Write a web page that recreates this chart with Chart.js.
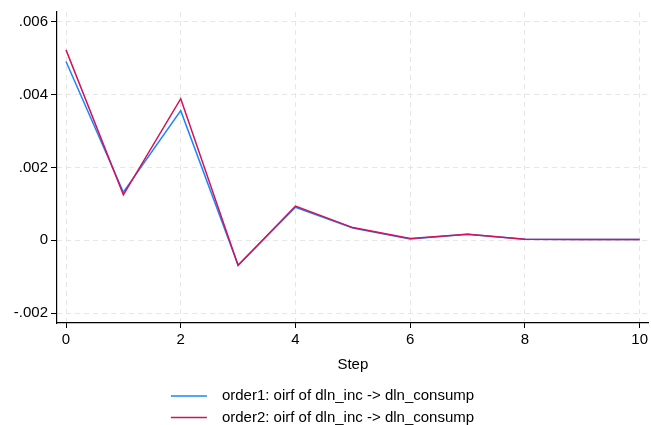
<!DOCTYPE html>
<html>
<head>
<meta charset="utf-8">
<script src="https://cdn.jsdelivr.net/npm/chart.js@4.4.0/dist/chart.umd.min.js"></script>
<style>
  html, body { margin: 0; padding: 0; background: #fff; }
</style>
</head>
<body>
<canvas id="irf" width="651" height="425"></canvas>
<script>
// impulse response steps and the two orderings
const steps = [0, 1, 2, 3, 4, 5, 6, 7, 8, 9, 10];
const order1 = [0.00491, 0.00132, 0.00356, -0.00068, 0.00091, 0.00034, 0.00004, 0.00017, 0.00003, 0.00002, 0.00002];
const order2 = [0.00523, 0.00125, 0.00389, -0.00069, 0.00094, 0.00035, 0.00005, 0.00017, 0.00003, 0.00002, 0.00002];
const seriesLabels = ['order1: oirf of dln_inc -> dln_consump', 'order2: oirf of dln_inc -> dln_consump'];

const xTicks = [0, 2, 4, 6, 8, 10];
const yTicks = [-0.002, 0, 0.002, 0.004, 0.006];
const yTickLabels = ['-.002', '0', '.002', '.004', '.006'];

const FONT = 'Liberation Sans, Arial, sans-serif';
const BLUE = '#1a85ff';
const RED = '#d41159';

// legend stacked under the axis title, one entry per row
const stackedLegend = {
    id: 'stackedLegend',
    afterDraw(chart) {
        const ctx = chart.ctx;
        const sets = chart.data.datasets;
        ctx.save();
        ctx.font = '15px ' + FONT;
        let textW = 0;
        sets.forEach(ds => { textW = Math.max(textW, ctx.measureText(ds.label).width); });
        const lineW = 36, gap = 15, rowH = 21.5;
        const x0 = (chart.width - (lineW + gap + textW)) / 2 - 3;
        let y = 396;
        sets.forEach(ds => {
            ctx.strokeStyle = ds.borderColor;
            ctx.lineWidth = 1.5;
            ctx.beginPath();
            ctx.moveTo(x0, y);
            ctx.lineTo(x0 + lineW, y);
            ctx.stroke();
            ctx.fillStyle = '#000';
            ctx.textBaseline = 'middle';
            ctx.textAlign = 'left';
            ctx.fillText(ds.label, x0 + lineW + gap, y);
            y += rowH;
        });
        ctx.restore();
    }
};

new Chart(document.getElementById('irf'), {
    type: 'line',
    data: {
        labels: steps,
        datasets: [
            {
                label: seriesLabels[0],
                data: steps.map((s, i) => ({ x: s, y: order1[i] })),
                borderColor: BLUE,
                backgroundColor: BLUE,
                borderWidth: 1.5,
                pointRadius: 0,
                tension: 0,
                fill: false,
                order: 1,
            },
            {
                label: seriesLabels[1],
                data: steps.map((s, i) => ({ x: s, y: order2[i] })),
                borderColor: RED,
                backgroundColor: RED,
                borderWidth: 1.5,
                pointRadius: 0,
                tension: 0,
                fill: false,
                order: 0,
            },
        ],
    },
    options: {
        responsive: false,
        animation: { duration: 0 },
        layout: { padding: { top: 10, right: 1, bottom: 51, left: 0 } },
        plugins: {
            legend: { display: false },
            tooltip: { enabled: false },
        },
        scales: {
            x: {
                type: 'linear',
                min: -0.157,
                max: 10.157,
                afterBuildTicks: scale => { scale.ticks = xTicks.map(v => ({ value: v })); },
                afterFit: scale => { scale.height = 51; },
                ticks: {
                    color: '#000',
                    font: { family: FONT, size: 15 },
                    padding: 3,
                    maxRotation: 0,
                },
                grid: {
                    color: '#e6e6e6',
                    lineWidth: 1,
                    tickLength: 5,
                    tickColor: '#000',
                },
                border: { color: '#000', width: 1.2, dash: [5, 4] },
                title: {
                    display: true,
                    text: 'Step',
                    color: '#000',
                    font: { family: FONT, size: 15 },
                    padding: { top: 7, bottom: 0 },
                },
            },
            y: {
                type: 'linear',
                min: -0.00227,
                max: 0.00627,
                afterBuildTicks: scale => { scale.ticks = yTicks.map(v => ({ value: v })); },
                afterFit: scale => { scale.width = 57; },
                ticks: {
                    color: '#000',
                    font: { family: FONT, size: 15 },
                    padding: 3,
                    callback: (v, i) => yTickLabels[i],
                },
                grid: {
                    color: '#e6e6e6',
                    lineWidth: 1,
                    tickLength: 6,
                    tickColor: '#000',
                },
                border: { color: '#000', width: 1.2, dash: [5, 4] },
            },
        },
    },
    plugins: [stackedLegend],
});
</script>
</body>
</html>
